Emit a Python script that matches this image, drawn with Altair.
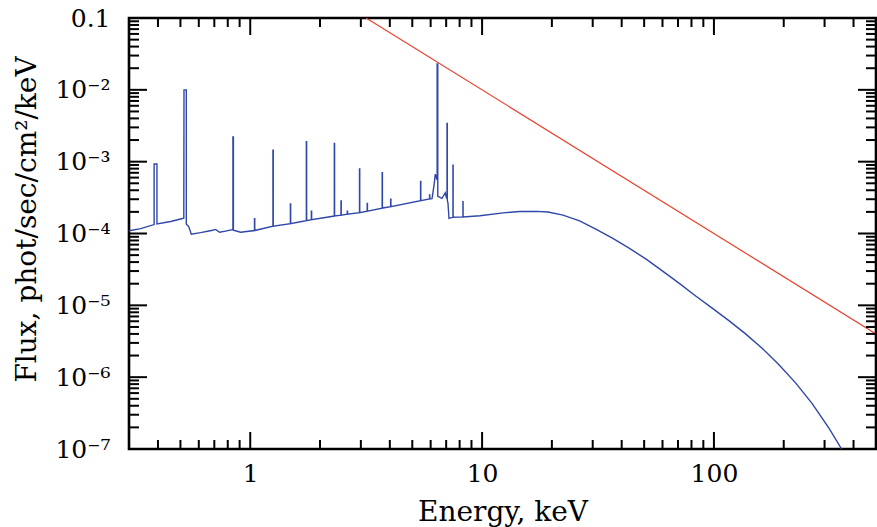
import altair as alt
import pandas as pd

# ---- data ----
spec_E = [0.30, 0.337, 0.385, 0.385, 0.396, 0.396, 0.454, 0.510, 0.517, 0.518, 0.530, 0.530,
          0.543, 0.557, 0.611, 0.680, 0.709, 0.738, 0.783, 0.837,
          0.842, 0.842, 0.846, 0.846, 0.909,
          1.043, 1.043, 1.046, 1.046,
          1.253, 1.253, 1.257, 1.257,
          1.490, 1.490, 1.494, 1.494, 1.645,
          1.746, 1.746, 1.751, 1.751,
          1.835, 1.835, 1.840, 1.840,
          2.305, 2.305, 2.311, 2.311,
          2.463, 2.463, 2.469, 2.469,
          2.621, 2.621, 2.628, 2.628,
          2.960, 2.960, 2.967, 2.967,
          3.195, 3.195, 3.203, 3.203,
          3.707, 3.707, 3.716, 3.716,
          4.033, 4.033, 4.043, 4.043,
          5.428, 5.428, 5.441, 5.441,
          5.934, 5.934, 5.948, 5.948,
          6.083, 6.205, 6.285, 6.373,
          6.40, 6.40, 6.44, 6.44,
          6.486, 6.716, 6.939, 7.022,
          7.06, 7.06, 7.08, 7.08,
          7.128, 7.199,
          7.487, 7.487, 7.50, 7.50,
          8.268, 8.268, 8.28, 8.28,
          9.784, 12.33, 14.54, 17.16, 19.24, 22.33, 26.34, 31.09, 36.64, 43.22, 51.0,
          60.1, 70.9, 83.7, 98.6, 116.4, 137.3, 161.8, 190.8, 225.9, 264.8, 313.3, 355.3, 401.2]
spec_F = [1.09e-4, 1.17e-4, 1.33e-4, 9.3e-4, 9.3e-4, 1.36e-4, 1.47e-4, 1.62e-4, 1.63e-4, 1.0e-2, 1.0e-2, 1.35e-4,
          1.25e-4, 9.8e-5, 1.03e-4, 1.10e-4, 1.14e-4, 1.04e-4, 1.08e-4, 1.13e-4,
          1.13e-4, 2.2e-3, 2.2e-3, 1.11e-4, 1.04e-4,
          1.10e-4, 1.61e-4, 1.61e-4, 1.10e-4,
          1.26e-4, 1.45e-3, 1.45e-3, 1.26e-4,
          1.37e-4, 2.57e-4, 2.57e-4, 1.37e-4, 1.46e-4,
          1.51e-4, 1.9e-3, 1.9e-3, 1.51e-4,
          1.56e-4, 2.05e-4, 2.05e-4, 1.56e-4,
          1.75e-4, 1.8e-3, 1.8e-3, 1.75e-4,
          1.80e-4, 2.85e-4, 2.85e-4, 1.80e-4,
          1.86e-4, 2.05e-4, 2.05e-4, 1.86e-4,
          1.95e-4, 7.9e-4, 7.9e-4, 1.95e-4,
          2.05e-4, 2.62e-4, 2.62e-4, 2.05e-4,
          2.26e-4, 7.0e-4, 7.0e-4, 2.26e-4,
          2.37e-4, 3.0e-4, 3.0e-4, 2.37e-4,
          2.87e-4, 5.3e-4, 5.3e-4, 2.87e-4,
          3.03e-4, 3.43e-4, 3.43e-4, 3.03e-4,
          3.05e-4, 4.72e-4, 6.72e-4, 5.73e-4,
          5.8e-4, 2.29e-2, 2.29e-2, 3.3e-4,
          3.27e-4, 3.08e-4, 3.69e-4, 3.11e-4,
          3.1e-4, 3.41e-3, 3.41e-3, 2.9e-4,
          2.62e-4, 1.62e-4,
          1.68e-4, 8.9e-4, 8.9e-4, 1.68e-4,
          1.70e-4, 2.77e-4, 2.77e-4, 1.70e-4,
          1.77e-4, 1.94e-4, 2.02e-4, 2.03e-4, 1.99e-4, 1.80e-4, 1.50e-4, 1.14e-4, 8.55e-5, 6.2e-5, 4.4e-5,
          3.0e-5, 2.02e-5, 1.34e-5, 9.06e-6, 6.08e-6, 3.97e-6, 2.51e-6, 1.49e-6, 8.2e-7, 4.32e-7, 1.95e-7, 1.0e-7, 5.1e-8]

pl_E = [3.16, 500.0]
pl_F = [0.1, 4.0e-6]

x_label_values = [1, 10, 100]
y_label_values = [1e-7, 1e-6, 1e-5, 1e-4, 1e-3, 1e-2, 1e-1]
x_major = [1, 10, 100]
x_minor = [0.4, 0.5, 0.6, 0.7, 0.8, 0.9, 2, 3, 4, 5, 6, 7, 8, 9,
           20, 30, 40, 50, 60, 70, 80, 90, 200, 300, 400]
y_major = [1e-6, 1e-5, 1e-4, 1e-3, 1e-2]
y_minor = [m * 10.0 ** k for k in range(-7, -1) for m in range(2, 10)]

# ---- styling ----
W, H = 747, 431
FONT = "DejaVu Serif"
BLUE = "#2f47a8"
RED = "#e8412c"

xscale = alt.Scale(type="log", domain=[0.3, 500], nice=False)
yscale = alt.Scale(type="log", domain=[1e-7, 0.1], nice=False)

spec_df = pd.DataFrame({"E": spec_E, "F": spec_F, "i": list(range(len(spec_E)))})
pl_df = pd.DataFrame({"E": pl_E, "F": pl_F})

ylabel_expr = ("datum.value > 0.05 ? '0.1' : '10' + "
               "['⁰','⁻¹','⁻²','⁻³','⁻⁴','⁻⁵','⁻⁶','⁻⁷'][round(-log(datum.value)/LN10)]")

AX_X = alt.Axis(values=x_label_values, format="~g", ticks=False, domain=False, grid=False,
                labelFont=FONT, labelFontSize=25, labelColor="black", labelPadding=12,
                title="Energy, keV", titleFont=FONT, titleFontSize=28,
                titleFontWeight="normal", titleColor="black",
                titleX=W / 2, titleY=63, titleAlign="center", titleBaseline="middle")
AX_Y = alt.Axis(values=y_label_values, labelExpr=ylabel_expr, ticks=False, domain=False,
                grid=False, labelFont=FONT, labelFontSize=25, labelColor="black",
                labelPadding=19, labelBaseline="middle",
                title="Flux, phot/sec/cm²/keV", titleFont=FONT, titleFontSize=28,
                titleFontWeight="normal", titleColor="black", titleAngle=270,
                titleX=-102, titleY=201, titleAlign="center", titleBaseline="middle")

spec = alt.Chart(spec_df).mark_line(color=BLUE, strokeWidth=1.4, clip=True).encode(
    x=alt.X("E:Q", scale=xscale, axis=AX_X),
    y=alt.Y("F:Q", scale=yscale, axis=AX_Y),
    order=alt.Order("i:Q"),
)

pl = alt.Chart(pl_df).mark_line(color=RED, strokeWidth=1.2, clip=True).encode(
    x=alt.X("E:Q", scale=xscale, axis=AX_X),
    y=alt.Y("F:Q", scale=yscale, axis=AX_Y),
)


def xticks(vals, length):
    df = pd.DataFrame({"v": vals})
    base = alt.Chart(df).mark_rule(color="black", strokeWidth=2)
    bottom = base.encode(x=alt.X("v:Q", scale=xscale, axis=AX_X), y=alt.value(H), y2=alt.value(H - length))
    top = base.encode(x=alt.X("v:Q", scale=xscale, axis=AX_X), y=alt.value(0), y2=alt.value(length))
    return [bottom, top]


def yticks(vals, length):
    df = pd.DataFrame({"v": vals})
    base = alt.Chart(df).mark_rule(color="black", strokeWidth=2)
    left = base.encode(y=alt.Y("v:Q", scale=yscale, axis=AX_Y), x=alt.value(0), x2=alt.value(length))
    right = base.encode(y=alt.Y("v:Q", scale=yscale, axis=AX_Y), x=alt.value(W), x2=alt.value(W - length))
    return [left, right]


layers = [spec, pl] + xticks(x_major, 17) + xticks(x_minor, 9) + yticks(y_major, 18) + yticks(y_minor, 10)

chart = alt.layer(*layers).properties(
    width=W, height=H,
    autosize=alt.AutoSizeParams(type="none"),
    padding={"left": 129, "top": 18, "right": 1, "bottom": 78},
    background="white",
).configure_view(stroke="black", strokeWidth=2.6)

chart.save("out.html", embed_options={"renderer": "svg", "actions": False})
